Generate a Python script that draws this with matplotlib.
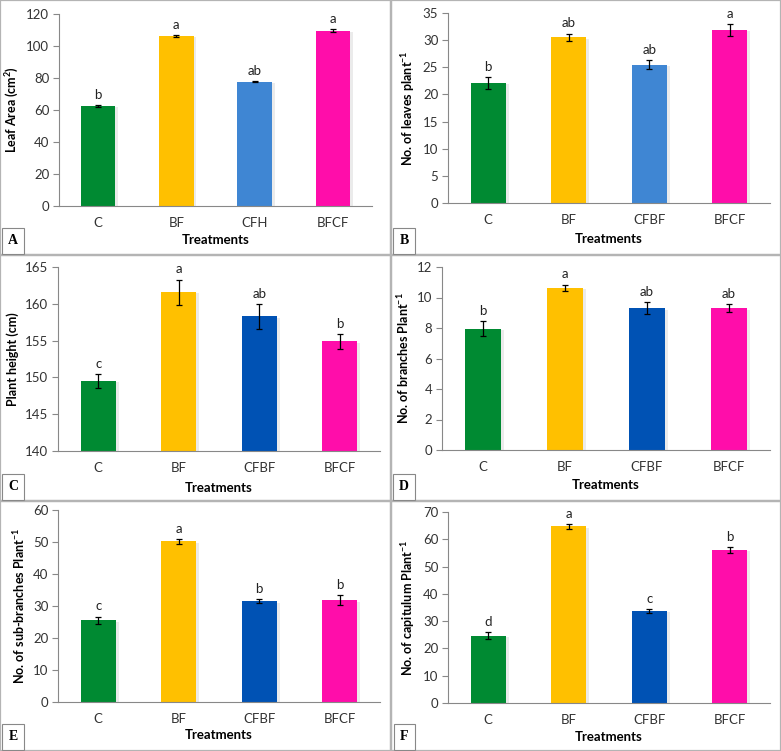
import matplotlib.pyplot as plt
import matplotlib.patheffects as pe
from matplotlib.patches import Rectangle

W, H = 781, 751

treat_a = ["C", "BF", "CFH", "BFCF"]
treat = ["C", "BF", "CFBF", "BFCF"]

leaf_area = [62.5, 106.2, 77.6, 109.5]
leaf_area_err = [0.5, 0.5, 0.4, 1.0]
leaf_area_sig = ["b", "a", "ab", "a"]

leaves = [22.1, 30.5, 25.5, 31.9]
leaves_err = [1.1, 0.7, 0.9, 1.1]
leaves_sig = ["b", "ab", "ab", "a"]

height = [149.5, 161.6, 158.3, 154.9]
height_err = [1.0, 1.7, 1.7, 1.0]
height_sig = ["c", "a", "ab", "b"]

branches = [7.95, 10.65, 9.3, 9.3]
branches_err = [0.5, 0.2, 0.4, 0.25]
branches_sig = ["b", "a", "ab", "ab"]

sub_branches = [25.5, 50.2, 31.5, 31.8]
sub_branches_err = [1.2, 0.8, 0.6, 1.6]
sub_branches_sig = ["c", "a", "b", "b"]

capitulum = [24.7, 64.7, 33.8, 56.1]
capitulum_err = [1.3, 0.8, 0.7, 1.1]
capitulum_sig = ["d", "a", "c", "b"]

GREEN = "#008A32"
YELLOW = "#FFC000"
LBLUE = "#3F86D3"
DBLUE = "#0052B4"
PINK = "#FF0DAA"

plt.rcParams["font.family"] = ["Lato", "DejaVu Sans"]
plt.rcParams["mathtext.fontset"] = "custom"
plt.rcParams["mathtext.rm"] = "Lato:bold"
plt.rcParams["mathtext.it"] = "Lato:bold"
plt.rcParams["mathtext.bf"] = "Lato:bold"


def rect(x0, x1, ytop, ybot):
    return [x0 / W, 1 - ybot / H, (x1 - x0) / W, (ybot - ytop) / H]


fig = plt.figure(figsize=(W / 100, H / 100), dpi=100)

# panel frames
panels = [(0, 391, 0, 255), (391, 781, 0, 255),
          (0, 391, 255, 501), (391, 781, 255, 501),
          (0, 391, 501, 751), (391, 781, 501, 751)]
for x0, x1, y0, y1 in panels:
    fig.patches.append(Rectangle((x0 / W, 1 - y1 / H), (x1 - x0) / W, (y1 - y0) / H,
                                 transform=fig.transFigure, fill=False,
                                 edgecolor="#b4b4b4", lw=1.6))

specs = [
    # values, err, sig, cats, colors, ylabel, ylim, step, axes box, xlabel y, letter
    (leaf_area, leaf_area_err, leaf_area_sig, treat_a, [GREEN, YELLOW, LBLUE, PINK],
     "Leaf Area (cm$^{2}$)", (0, 120), 20, (59, 372, 14, 206), 240, "A", panels[0]),
    (leaves, leaves_err, leaves_sig, treat, [GREEN, YELLOW, LBLUE, PINK],
     "No. of leaves plant$^{-1}$", (0, 35), 5, (448, 770, 13, 203), 239, "B", panels[1]),
    (height, height_err, height_sig, treat, [GREEN, YELLOW, DBLUE, PINK],
     "Plant height (cm)", (140, 165), 5, (58, 380, 267, 451), 488, "C", panels[2]),
    (branches, branches_err, branches_sig, treat, [GREEN, YELLOW, DBLUE, PINK],
     "No. of branches Plant$^{-1}$", (0, 12), 2, (442, 770, 267, 450), 485, "D", panels[3]),
    (sub_branches, sub_branches_err, sub_branches_sig, treat, [GREEN, YELLOW, DBLUE, PINK],
     "No. of sub-branches Plant$^{-1}$", (0, 60), 10, (58, 380, 510, 702), 735, "E", panels[4]),
    (capitulum, capitulum_err, capitulum_sig, treat, [GREEN, YELLOW, DBLUE, PINK],
     "No. of capitulum Plant$^{-1}$", (0, 70), 10, (448, 770, 512, 703), 737, "F", panels[5]),
]

for vals, errs, sig, cats, cols, ylab, ylim, step, box, xly, letter, pan in specs:
    x0, x1, yt, yb = box
    ax = fig.add_axes(rect(x0, x1, yt, yb))
    pos = range(len(cats))
    base = ylim[0]
    bars = ax.bar(pos, [v - base for v in vals], bottom=base, width=0.44, color=cols, zorder=2)
    for b in bars:
        b.set_path_effects([pe.SimplePatchShadow(offset=(2, -1), shadow_rgbFace="#c8c8c8",
                                                 alpha=0.35), pe.Normal()])
    ax.errorbar(pos, vals, yerr=errs, fmt="none", ecolor="black", elinewidth=0.9,
                capsize=2.2, capthick=0.9, zorder=3)
    for p, v, e, s in zip(pos, vals, errs, sig):
        ax.annotate(s, (p, v + e), xytext=(0, 3), textcoords="offset points",
                    ha="center", va="bottom", fontsize=9.5, color="#222222")
    ax.set_xlim(-0.5, len(cats) - 0.5)
    ax.set_ylim(*ylim)
    ax.set_yticks(range(ylim[0], ylim[1] + 1, step))
    ax.set_xticks(list(pos))
    ax.set_xticklabels(cats)
    ax.tick_params(axis="x", length=0, pad=8, labelsize=9.5, labelcolor="#333333")
    ax.tick_params(axis="y", length=4, width=0.8, color="#888888", pad=3,
                   labelsize=9.5, labelcolor="#333333")
    for side in ["top", "right"]:
        ax.spines[side].set_visible(False)
    for side in ["left", "bottom"]:
        ax.spines[side].set_color("#888888")
        ax.spines[side].set_linewidth(0.8)
    ax.set_ylabel(ylab, fontsize=9, fontweight="bold", labelpad=4)
    fig.text((x0 + x1) / 2 / W, 1 - xly / H, "Treatments", ha="center", va="center",
             fontsize=9.5, fontweight="bold")
    # panel letter box
    px0, px1, py0, py1 = pan
    fig.text((px0 + 13) / W, 1 - (py1 - 14) / H, letter, ha="center", va="center",
             fontsize=10, fontweight="bold", family="Liberation Serif",
             bbox=dict(boxstyle="square,pad=0.45", facecolor="white",
                       edgecolor="#888888", lw=0.8))

fig.savefig("out.png", dpi=100)
